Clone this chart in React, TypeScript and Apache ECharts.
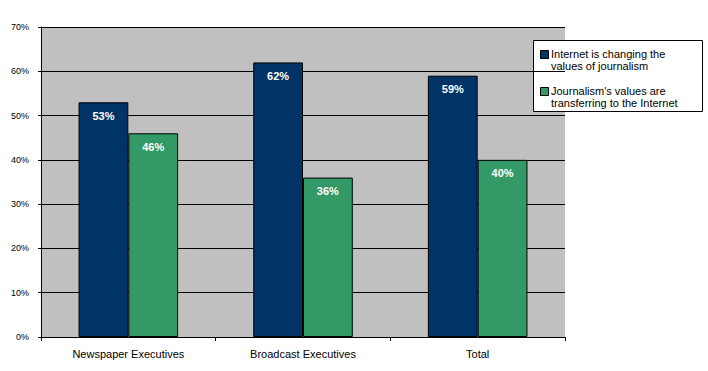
import React, { useEffect, useRef } from "react";
import * as echarts from "echarts";

const categories = ["Newspaper Executives", "Broadcast Executives", "Total"];
const seriesNames = ["Internet is changing the\nvalues of journalism", "Journalism's values are\ntransferring to the Internet"];
const changingValues = [0.53, 0.62, 0.59];
const transferringValues = [0.46, 0.36, 0.40];
const colors = ["#003366", "#339966"];

export default function App() {
  const ref = useRef<HTMLDivElement>(null);
  useEffect(() => {
    document.body.style.margin = "0";
    const chart = echarts.init(ref.current!, null, { renderer: "svg" });
    const font = "'Liberation Sans', Arial, sans-serif";
    const mkSeries = (name: string, data: number[], color: string) => ({
      name,
      type: "bar",
      data,
      barGap: "0%",
      barCategoryGap: "43%",
      itemStyle: { color, borderColor: "#000", borderWidth: 1 },
      label: {
        show: true,
        position: "insideTop",
        distance: 8,
        color: "#fff",
        fontWeight: "bold",
        fontSize: 11,
        fontFamily: font,
        formatter: (p: any) => Math.round(p.value * 100) + "%",
      },
    });
    const legendItems: any[] = [
      { type: "rect", shape: { x: 533.5, y: 40.5, width: 169, height: 71 }, style: { fill: "#fff", stroke: "#000", lineWidth: 1 } },
    ];
    seriesNames.forEach((n, i) => {
      const y0 = 50 + i * 37;
      legendItems.push({ type: "rect", shape: { x: 540.5, y: y0 + 0.5, width: 8, height: 8 }, style: { fill: colors[i], stroke: "#000", lineWidth: 1 } });
      legendItems.push({ type: "text", x: 551, y: y0 - 2, style: { text: n, fill: "#000", font: `11px ${font}`, lineHeight: 12 } });
    });
    chart.setOption({
      animation: false,
      backgroundColor: "#fff",
      grid: { left: 41, top: 27, width: 524, height: 310, backgroundColor: "#C0C0C0", show: true, borderWidth: 0 },
      xAxis: {
        type: "category",
        data: categories,
        axisLine: { lineStyle: { color: "#000", width: 1 } },
        axisTick: { show: true, alignWithLabel: false, length: 4, lineStyle: { color: "#000" } },
        axisLabel: { color: "#000", fontSize: 11, fontFamily: font, margin: 11 },
      },
      yAxis: {
        type: "value",
        min: 0,
        max: 0.7,
        interval: 0.1,
        axisLine: { show: true, lineStyle: { color: "#000", width: 1 } },
        axisTick: { show: true, length: 3, lineStyle: { color: "#000" } },
        splitLine: { show: true, lineStyle: { color: "#000", width: 1 } },
        axisLabel: { color: "#000", fontSize: 9, fontFamily: font, margin: 12, formatter: (v: number) => Math.round(v * 100) + "%" },
      },
      series: [mkSeries(seriesNames[0], changingValues, colors[0]), mkSeries(seriesNames[1], transferringValues, colors[1])],
      graphic: legendItems,
    });
    return () => chart.dispose();
  }, []);
  return <div ref={ref} style={{ width: 708, height: 371 }} />;
}
